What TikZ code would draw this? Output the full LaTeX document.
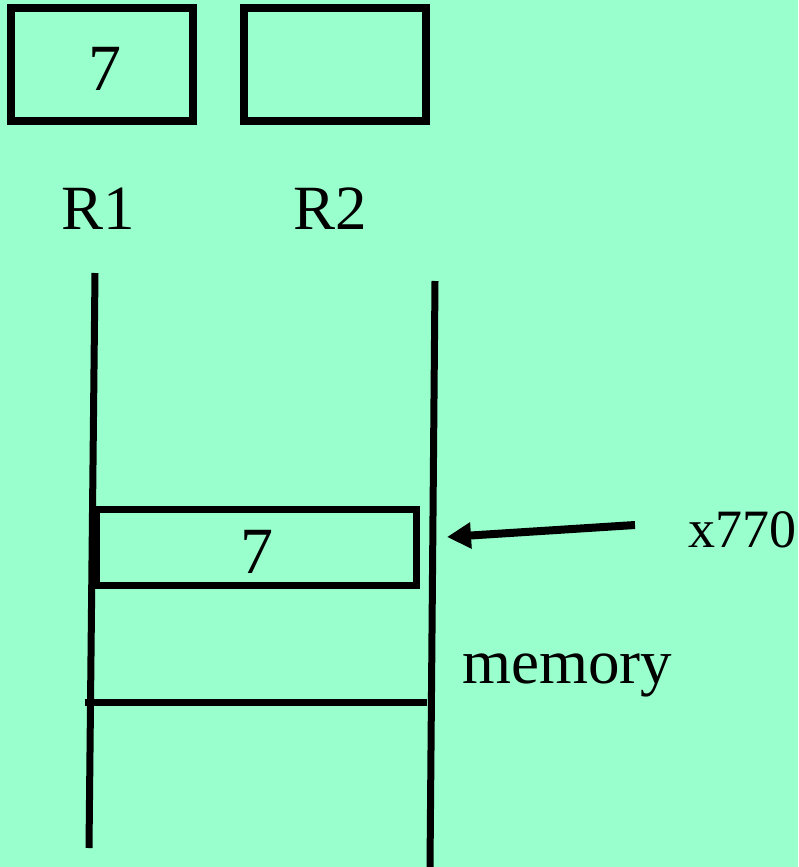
\documentclass[tikz,border=0pt]{standalone}
\usepackage{fontspec}
\setmainfont{Liberation Serif}
\usetikzlibrary{arrows.meta}
\definecolor{bg}{HTML}{99FFCC}
\tikzset{
  regbox/.style={draw=black, line width=8pt},
  memline/.style={draw=black, line width=7pt},
  bigtxt/.style={inner sep=0pt, anchor=base west, font=\fontsize{66}{70}\selectfont},
  lbltxt/.style={inner sep=0pt, anchor=base west, font=\fontsize{63}{68}\selectfont},
  smalltxt/.style={inner sep=0pt, anchor=base west, font=\fontsize{54}{60}\selectfont},
  ptr/.style={draw=black, line width=8pt, -{Triangle[length=24pt,width=25pt]}}
}
\begin{document}
\begin{tikzpicture}[x=1pt,y=-1pt]
\fill[bg] (0,0) rectangle (798,867);
\useasboundingbox (0,0) rectangle (798,867);
% registers
\draw[regbox] (11,8.5) rectangle (193,120.5);
\draw[regbox] (244,8.5) rectangle (426,120.5);
\node[bigtxt] (r1val) at (88,90) {7};
\node[lbltxt] (r1) at (61,229) {R1};
\node[lbltxt] (r2) at (293,229) {R2};
% memory lines
\coordinate (ltop) at (95,273);
\coordinate (lbot) at (89,848);
\coordinate (rtop) at (435,281);
\coordinate (rbot) at (430,867);
\draw[memline] (ltop) -- (lbot);
\draw[memline] (rtop) -- (rbot);
\draw[memline] (96,509.5) rectangle (416,585.5);
\node[bigtxt] (memval) at (240,573) {7};
\coordinate (hl) at (85,702);
\coordinate (hr) at (427,702);
\draw[memline] (hl) -- (hr);
% address pointer
\node[smalltxt] (addr) at (688,547) {x770};
\coordinate (atail) at (635,525);
\coordinate (ahead) at (447,537);
\draw[ptr] (atail) -- (ahead);
\node[lbltxt] (mem) at (462,683) {memory};
\end{tikzpicture}
\end{document}
